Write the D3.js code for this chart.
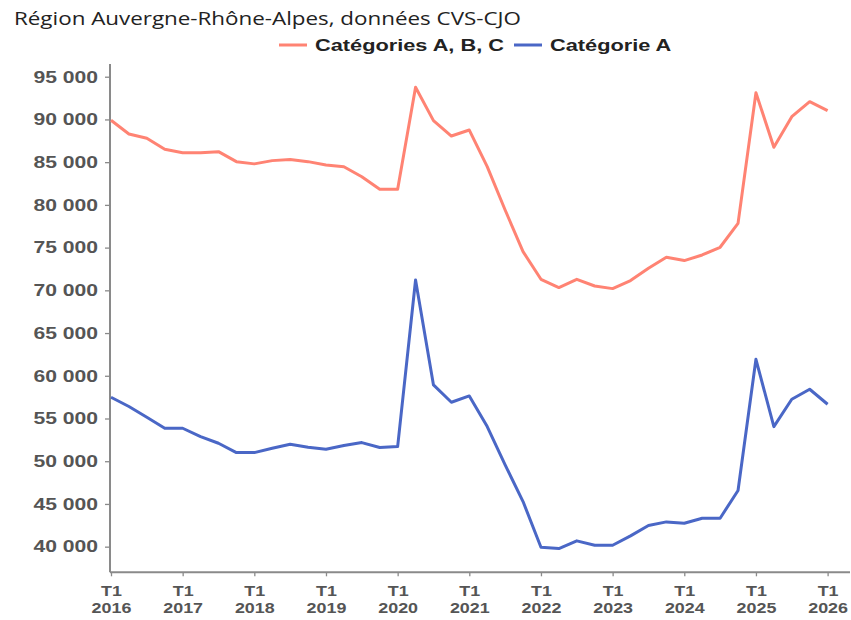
<!DOCTYPE html>
<html>
<head>
<meta charset="utf-8">
<script src="https://cdn.jsdelivr.net/npm/d3@7"></script>
<style>
  body { margin: 0; background: #fff; }
</style>
</head>
<body>
<div id="chart"></div>
<script>
// Data (quarterly, T1 2016 -> T1 2026)
const years = [2016, 2017, 2018, 2019, 2020, 2021, 2022, 2023, 2024, 2025, 2026]
const quarters = []
years.forEach((y) => {
	for (let q = 1; q <= 4; q++) {
		if (y === 2026 && q > 1) break
		quarters.push("T" + q + " " + y)
	}
})

const catABC = [89900, 88300, 87800, 86500, 86100, 86100, 86230, 85060, 84800, 85180,
	85300, 85060, 84670, 84470, 83300, 81820, 81820, 93760, 89860, 88060,
	88760, 84470, 79400, 74530, 71290, 70320, 71290, 70510, 70200, 71140,
	72580, 73870, 73480, 74140, 75040, 77840, 93130, 86740, 90320, 92080, 91030]

const catA = [57490, 56400, 55150, 53860, 53860, 52880, 52100, 51010, 51010, 51520,
	51990, 51640, 51400, 51830, 52180, 51600, 51710, 71210, 58930, 56900,
	57640, 54050, 49570, 45280, 39940, 39780, 40680, 40170, 40170, 41260,
	42470, 42900, 42740, 43330, 43330, 46570, 61930, 54050, 57250, 58420, 56670]

const yTicks = [40000, 45000, 50000, 55000, 60000, 65000, 70000, 75000, 80000, 85000, 90000, 95000]

const series = [
	{ name: "Catégories A, B, C", values: catABC, color: "#ff8373" },
	{ name: "Catégorie A", values: catA, color: "#4a67c6" }
]

const width = 851, height = 620
// the picture is a little wider than tall: text is stretched horizontally
const SX = 1.28
const sans = "'Liberation Sans', Arial, sans-serif"

const svg = d3.select("#chart").append("svg")
	.attr("width", width)
	.attr("height", height)

// Scales
const xScale = d3.scaleLinear()
	.domain([0, 41.25])
	.range([111, 850])

const yScale = d3.scaleLinear()
	.domain([37000, 96500])
	.range([572.3, 63.9])

// Title
svg.append("text")
	.attr("transform", `translate(14,25) scale(${SX},1)`)
	.attr("font-family", "'Open Sans', sans-serif")
	.attr("font-size", "17.5px")
	.attr("fill", "#222")
	.text("Région Auvergne-Rhône-Alpes, données CVS-CJO")

// Legend
const legend = svg.append("g").attr("font-family", sans)
const legendX = [279, 514]
series.forEach((s, i) => {
	legend.append("line")
		.attr("x1", legendX[i])
		.attr("x2", legendX[i] + 28)
		.attr("y1", 45)
		.attr("y2", 45)
		.attr("stroke", s.color)
		.attr("stroke-width", 3)
	legend.append("text")
		.attr("transform", `translate(${legendX[i] + 36},51) scale(${SX},1)`)
		.attr("font-size", "17px")
		.attr("font-weight", "bold")
		.attr("fill", "#222")
		.text(s.name)
})

// Y axis
const fmt = (d) => d3.format(",")(d).replace(",", " ")
const yAxis = d3.axisLeft(yScale)
	.tickValues(yTicks)
	.tickFormat(fmt)
	.tickSize(5)
	.tickPadding(7)
const yAxisGroup = svg.append("g")
	.attr("transform", "translate(110,0)")
	.call(yAxis)
yAxisGroup.select(".domain")
	.attr("d", `M0,${yScale.range()[1]}V${yScale.range()[0]}`)
	.attr("stroke", "#8a8a8a")
	.attr("stroke-width", 2)
yAxisGroup.selectAll(".tick line").attr("stroke", "#8a8a8a").attr("stroke-width", 1.3)
yAxisGroup.selectAll("text")
	.attr("x", -12 / SX)
	.attr("transform", `scale(${SX},1)`)
	.attr("font-family", sans)
	.attr("font-size", "16.5px")
	.attr("font-weight", "bold")
	.attr("fill", "#555")

// X axis
const xAxis = d3.axisBottom(xScale)
	.tickValues(d3.range(0, quarters.length, 4))
	.tickFormat("")
	.tickSize(4)
const xAxisGroup = svg.append("g")
	.attr("transform", `translate(0,${yScale.range()[0]})`)
	.call(xAxis)
xAxisGroup.select(".domain")
	.attr("d", `M110,0H850`)
	.attr("stroke", "#8a8a8a")
	.attr("stroke-width", 2)
xAxisGroup.selectAll(".tick line").attr("stroke", "#8a8a8a").attr("stroke-width", 1.3)

// Two-line tick labels
xAxisGroup.selectAll(".tick").each(function (d) {
	const parts = quarters[d].split(" ")
	const t = d3.select(this).append("text")
		.attr("transform", `scale(${SX},1)`)
		.attr("text-anchor", "middle")
		.attr("font-family", sans)
		.attr("font-size", "14px")
		.attr("font-weight", "bold")
		.attr("fill", "#555")
	t.append("tspan").attr("x", 0).attr("y", 24).text(parts[0])
	t.append("tspan").attr("x", 0).attr("y", 41).text(parts[1])
})

// Lines
const line = d3.line()
	.x((d, i) => xScale(i))
	.y((d) => yScale(d))

series.forEach((s) => {
	svg.append("path")
		.datum(s.values)
		.attr("fill", "none")
		.attr("stroke", s.color)
		.attr("stroke-width", 3)
		.attr("stroke-linejoin", "round")
		.attr("d", line)
})
</script>
</body>
</html>
